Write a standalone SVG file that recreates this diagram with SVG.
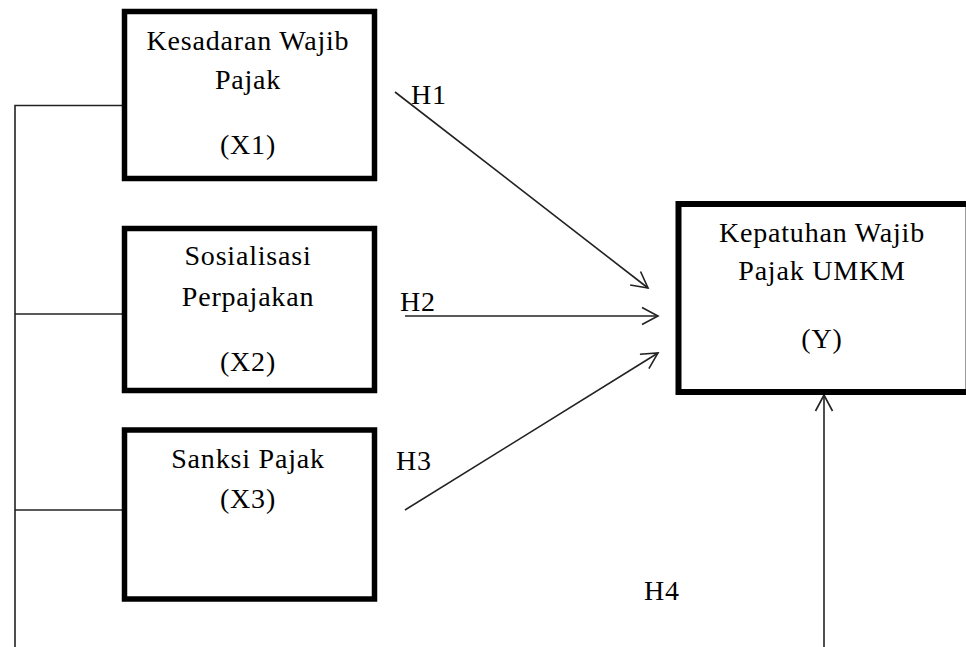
<svg xmlns="http://www.w3.org/2000/svg" width="966" height="647" viewBox="0 0 966 647">
<defs>
<style>
.box{fill:#fff;stroke:#000;stroke-width:5.5}
.t{font-family:"Liberation Serif","Times New Roman",serif;font-size:28px;fill:#000;letter-spacing:0.8px}
.c{text-anchor:middle}
.ln{stroke:#222;stroke-width:1.6;fill:none}
</style>
<marker id="ah" markerUnits="userSpaceOnUse" markerWidth="24" markerHeight="24" refX="20" refY="12" orient="auto" viewBox="0 0 24 24">
<path d="M4,3.5 L20,12 L4,20.5" fill="none" stroke="#222" stroke-width="1.6"/>
</marker>
</defs>
<rect width="966" height="647" fill="#fff"/>
<g id="connectors">
<path class="ln" d="M15,647 V105.5 H124"/>
<path class="ln" d="M15,314 H124"/>
<path class="ln" d="M15,510 H124"/>
<line id="h1" class="ln" x1="395" y1="92" x2="648" y2="288" marker-end="url(#ah)"/>
<line id="h2" class="ln" x1="405" y1="316" x2="658" y2="316" marker-end="url(#ah)"/>
<line id="h3" class="ln" x1="405" y1="510" x2="658" y2="353" marker-end="url(#ah)"/>
<line id="h4" class="ln" x1="824" y1="647" x2="824" y2="395" marker-end="url(#ah)"/>
</g>
<g id="x1">
<rect class="box" x="124.5" y="11.5" width="250" height="167"/>
<text class="t c" x="248" y="50">Kesadaran Wajib</text>
<text class="t c" x="248" y="89">Pajak</text>
<text class="t c" x="248" y="154">(X1)</text>
</g>
<g id="x2">
<rect class="box" x="124.5" y="228.5" width="250" height="162"/>
<text class="t c" x="248" y="265">Sosialisasi</text>
<text class="t c" x="248" y="306">Perpajakan</text>
<text class="t c" x="248" y="371">(X2)</text>
</g>
<g id="x3">
<rect class="box" x="124.5" y="430" width="250" height="169"/>
<text class="t c" x="248" y="468">Sanksi Pajak</text>
<text class="t c" x="248" y="508">(X3)</text>
</g>
<g id="y">
<rect class="box" x="678.5" y="204" width="294" height="188" style="stroke-width:6"/>
<line x1="965.5" y1="207" x2="965.5" y2="389" stroke="#999" stroke-width="1"/>
<text class="t c" x="822" y="242">Kepatuhan Wajib</text>
<text class="t c" x="822" y="280">Pajak UMKM</text>
<text class="t c" x="822" y="348">(Y)</text>
</g>
<g id="labels">
<text class="t" x="411" y="104">H1</text>
<text class="t" x="400" y="311">H2</text>
<text class="t" x="396" y="470">H3</text>
<text class="t" x="644" y="600">H4</text>
</g>
</svg>
